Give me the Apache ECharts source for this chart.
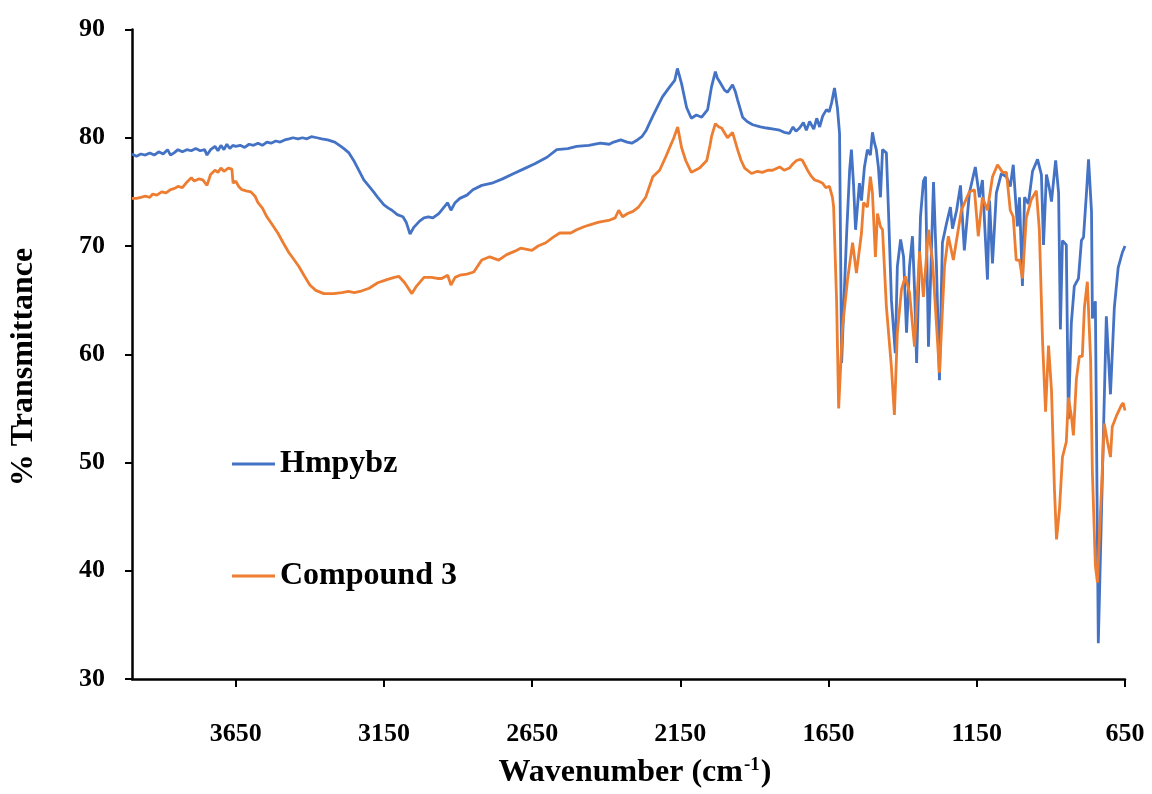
<!DOCTYPE html>
<html>
<head>
<meta charset="utf-8">
<title>FT-IR spectra</title>
<script src="https://cdn.jsdelivr.net/npm/echarts@6/dist/echarts.min.js"></script>
<style>
  html, body { margin: 0; padding: 0; background: #fff; }
  #chart { width: 1152px; height: 794px; }
</style>
</head>
<body>
<div id="chart"></div>
<script>
// FT-IR spectra: % transmittance vs wavenumber (cm-1)
const seriesNames = ['Hmpybz', 'Compound 3'];
const xTickValues = [3650, 3150, 2650, 2150, 1650, 1150, 650];

const hmpybzWave = [
  4000, 3985, 3970, 3955, 3940, 3925, 3910, 3895, 3880, 3870, 3858, 3845, 3830, 3815, 3800,
  3785, 3770, 3755, 3747, 3735, 3720, 3710, 3700, 3690, 3680, 3670, 3660, 3650, 3635, 3620,
  3605, 3590, 3575, 3560, 3545, 3531, 3515, 3500, 3485, 3470, 3457, 3440, 3425, 3410, 3395,
  3376, 3360, 3340, 3316, 3300, 3285, 3268, 3250, 3235, 3218, 3200, 3185, 3171, 3150, 3135,
  3123, 3105, 3086, 3075, 3062, 3050, 3030, 3015, 3000, 2985, 2965, 2950, 2935, 2924, 2910,
  2894, 2870, 2850, 2820, 2786, 2750, 2712, 2680, 2641, 2600, 2567, 2530, 2500, 2459, 2420,
  2390, 2375, 2351, 2330, 2314, 2295, 2280, 2265, 2243, 2225, 2210, 2186, 2169, 2160, 2146,
  2129, 2113, 2096, 2078, 2058, 2045, 2032, 2025, 2018, 2001, 1991, 1974, 1965, 1957, 1940,
  1925, 1906, 1880, 1859, 1835, 1815, 1800, 1782, 1770, 1760, 1748, 1735, 1725, 1714, 1700,
  1690, 1680, 1670, 1657, 1648, 1640, 1630, 1620, 1613, 1606, 1598, 1589, 1579, 1573, 1566,
  1559, 1546, 1539, 1529, 1519, 1509, 1502, 1495, 1489, 1482, 1475, 1468, 1455, 1448, 1438,
  1425, 1418, 1407, 1397, 1387, 1377, 1367, 1360, 1353, 1340, 1330, 1323, 1313, 1296, 1286,
  1276, 1266, 1252, 1239, 1232, 1218, 1205, 1192, 1175, 1155, 1141, 1131, 1114, 1107, 1097,
  1084, 1067, 1050, 1037, 1027, 1013, 1006, 996, 989, 976, 962, 945, 932, 925, 915,
  905, 898, 884, 874, 868, 861, 848, 841, 831, 821, 807, 797, 790, 780, 773,
  763, 760, 750, 740, 723, 713, 699, 686, 673, 659, 650
];
const hmpybzT = [
  78.5, 78.3, 78.5, 78.4, 78.6, 78.4, 78.7, 78.5, 78.9, 78.4, 78.6, 78.9, 78.7, 78.9, 78.8,
  79.0, 78.8, 78.9, 78.4, 78.9, 79.2, 78.8, 79.3, 78.9, 79.4, 79.0, 79.3, 79.2, 79.3, 79.1,
  79.4, 79.3, 79.5, 79.3, 79.6, 79.5, 79.7, 79.6, 79.8, 79.9, 80.0, 79.9, 80.0, 79.9, 80.1,
  80.0, 79.9, 79.8, 79.6, 79.3, 79.0, 78.6, 77.8, 77.0, 76.1, 75.5, 75.0, 74.5, 73.8, 73.5,
  73.3, 72.9, 72.7, 72.2, 71.1, 71.7, 72.3, 72.6, 72.7, 72.6, 73.0, 73.5, 74.0, 73.3, 74.0,
  74.4, 74.7, 75.2, 75.6, 75.8, 76.2, 76.7, 77.1, 77.6, 78.2, 78.9, 79.0, 79.2, 79.3, 79.5,
  79.4, 79.6, 79.8, 79.6, 79.5, 79.8, 80.1, 80.7, 82.0, 83.0, 83.8, 84.7, 85.3, 86.4, 85.0,
  82.8, 81.8, 82.1, 81.9, 82.6, 84.7, 86.1, 85.5, 85.2, 84.4, 84.2, 84.9, 84.3, 83.5, 81.9,
  81.5, 81.2, 81.0, 80.9, 80.8, 80.7, 80.5, 80.4, 81.0, 80.6, 80.9, 81.4, 80.7, 81.5, 80.8,
  81.8, 81.0, 82.0, 82.6, 82.4, 83.2, 84.6, 82.7, 80.4, 59.2, 65.0, 71.2, 77.0, 78.9, 75.8,
  71.5, 75.8, 74.2, 77.3, 78.9, 78.4, 80.5, 79.5, 78.9, 77.3, 74.5, 78.9, 78.6, 73.3, 65.0,
  60.1, 68.1, 70.6, 69.0, 62.0, 68.1, 70.9, 66.0, 59.2, 72.7, 76.0, 76.4, 60.7, 75.9, 68.1,
  57.6, 70.3, 72.1, 73.6, 71.6, 73.3, 75.6, 69.6, 74.9, 77.3, 74.5, 76.1, 66.9, 74.2, 68.4,
  74.9, 76.7, 76.4, 75.5, 77.5, 71.8, 74.5, 66.3, 74.5, 73.9, 76.9, 78.0, 76.6, 70.1, 76.6,
  75.3, 74.1, 77.9, 74.9, 62.3, 70.5, 70.1, 54.0, 62.9, 66.3, 67.0, 70.5, 70.8, 74.9, 78.0,
  73.2, 63.3, 64.9, 33.3, 52.5, 63.5, 56.3, 64.3, 68.0, 69.4, 70.0
];

const compound3Wave = [
  4000, 3985, 3970, 3955, 3940, 3930, 3916, 3900, 3885, 3870, 3858, 3845, 3830, 3815, 3800,
  3790, 3775, 3761, 3747, 3735, 3720, 3710, 3700, 3690, 3675, 3663, 3659, 3650, 3640, 3629,
  3615, 3599, 3585, 3575, 3560, 3545, 3530, 3508, 3490, 3471, 3455, 3437, 3420, 3400, 3380,
  3353, 3320, 3292, 3270, 3250, 3231, 3200, 3171, 3140, 3115, 3100, 3080, 3056, 3040, 3015,
  2990, 2970, 2955, 2935, 2924, 2910, 2894, 2870, 2847, 2830, 2820, 2793, 2763, 2736, 2710,
  2689, 2651, 2630, 2604, 2580, 2557, 2520, 2500, 2473, 2450, 2425, 2388, 2370, 2358, 2345,
  2328, 2310, 2291, 2267, 2243, 2220, 2200, 2186, 2172, 2159, 2146, 2132, 2113, 2100, 2085,
  2061, 2050, 2045, 2032, 2020, 2011, 1991, 1974, 1957, 1945, 1933, 1910, 1890, 1873, 1855,
  1839, 1815, 1800, 1782, 1770, 1758, 1745, 1738, 1721, 1710, 1697, 1685, 1670, 1660, 1647,
  1637, 1633, 1623, 1616, 1603, 1586, 1569, 1556, 1539, 1532, 1519, 1509, 1502, 1492, 1485,
  1475, 1468, 1455, 1438, 1428, 1418, 1404, 1391, 1377, 1360, 1343, 1330, 1313, 1299, 1293,
  1276, 1259, 1246, 1229, 1202, 1175, 1158, 1145, 1131, 1114, 1097, 1080, 1063, 1050, 1037,
  1027, 1017, 1006, 996, 983, 966, 949, 939, 928, 918, 908, 898, 888, 881, 871,
  861, 848, 841, 831, 824, 814, 804, 794, 787, 777, 766, 760, 750, 743, 730,
  720, 709, 699, 693, 679, 662, 656, 650
];
const compound3T = [
  74.4, 74.4, 74.5, 74.6, 74.5, 74.8, 74.7, 75.0, 74.9, 75.2, 75.3, 75.5, 75.4, 75.9, 76.3,
  76.0, 76.2, 76.1, 75.6, 76.6, 77.0, 76.8, 77.2, 76.9, 77.2, 77.1, 75.8, 76.0, 75.5, 75.2,
  75.1, 75.0, 74.6, 74.0, 73.5, 72.7, 72.1, 71.2, 70.3, 69.4, 68.8, 68.1, 67.3, 66.4, 65.9,
  65.6, 65.6, 65.7, 65.8, 65.7, 65.8, 66.1, 66.6, 66.9, 67.1, 67.2, 66.6, 65.6, 66.3, 67.1,
  67.1, 67.0, 67.0, 67.3, 66.4, 67.1, 67.3, 67.4, 67.6, 68.3, 68.7, 69.0, 68.7, 69.2, 69.5,
  69.8, 69.6, 70.0, 70.3, 70.8, 71.2, 71.2, 71.5, 71.8, 72.0, 72.2, 72.4, 72.6, 73.3, 72.7,
  73.0, 73.2, 73.6, 74.5, 76.4, 77.0, 78.2, 79.1, 80.0, 81.0, 79.1, 77.9, 76.8, 77.0, 77.2,
  77.9, 79.3, 80.1, 81.3, 81.0, 80.9, 80.0, 80.5, 78.9, 77.9, 77.2, 76.7, 76.9, 76.8, 77.0,
  77.0, 77.3, 77.0, 77.2, 77.6, 77.9, 78.0, 77.9, 77.0, 76.5, 76.1, 76.0, 75.8, 75.4, 75.5,
  74.5, 73.6, 65.0, 55.0, 62.5, 66.9, 70.3, 67.5, 71.2, 74.0, 73.6, 76.4, 74.9, 69.0, 73.0,
  71.8, 71.5, 64.4, 58.8, 54.4, 62.0, 66.0, 67.2, 65.7, 60.7, 69.5, 65.3, 71.5, 68.5, 68.4,
  58.3, 68.1, 70.9, 68.7, 73.3, 75.0, 75.2, 70.9, 74.5, 73.3, 76.4, 77.5, 76.8, 76.8, 73.3,
  72.7, 68.7, 68.7, 67.0, 72.6, 74.3, 75.1, 71.5, 61.1, 54.7, 60.8, 56.7, 47.5, 42.9, 45.7,
  50.5, 51.9, 56.0, 54.3, 52.5, 57.7, 59.8, 59.8, 64.3, 66.7, 59.5, 49.1, 40.5, 38.9, 47.1,
  53.6, 51.9, 50.5, 53.3, 54.3, 55.3, 55.5, 54.8
];

const zip = (xs, ys) => xs.map((x, i) => [x, ys[i]]);

const serifFamily = '"Liberation Serif", "Times New Roman", serif';
const serifBold = 'bold 32px ' + serifFamily;
const tickFont = { fontFamily: serifFamily, fontWeight: 'bold', fontSize: 26, color: '#000' };

const chart = echarts.init(document.getElementById('chart'), null, { renderer: 'canvas' });

chart.setOption({
  animation: false,
  backgroundColor: '#fff',
  grid: { left: 132, right: 27, top: 29.5, bottom: 115, containLabel: false },
  legend: {
    orient: 'vertical',
    left: 227,
    top: 443,
    icon: 'rect',
    itemWidth: 43,
    itemHeight: 3,
    itemGap: 80,
    data: seriesNames,
    textStyle: { fontFamily: serifFamily, fontWeight: 'bold', fontSize: 32, color: '#000', lineHeight: 32 }
  },
  xAxis: {
    type: 'value',
    inverse: true,
    min: 650,
    max: 4000,
    splitLine: { show: false },
    axisLine: { show: true, onZero: false, lineStyle: { color: '#000', width: 2.5 } },
    axisTick: { show: true, inside: false, length: 8, customValues: xTickValues, lineStyle: { color: '#000', width: 2 } },
    axisLabel: Object.assign({ customValues: xTickValues, margin: 42, formatter: v => String(v) }, tickFont)
  },
  yAxis: {
    type: 'value',
    min: 30,
    max: 90,
    interval: 10,
    splitLine: { show: false },
    axisLine: { show: true, onZero: false, lineStyle: { color: '#000', width: 2.5 } },
    axisTick: { show: true, inside: false, length: 7, lineStyle: { color: '#000', width: 2 } },
    axisLabel: Object.assign({ margin: 27, formatter: v => String(v) }, tickFont)
  },
  series: [
    {
      name: seriesNames[0],
      type: 'line',
      data: zip(hmpybzWave, hmpybzT),
      showSymbol: false,
      symbol: 'none',
      lineStyle: { color: '#4472C4', width: 2.8 },
      itemStyle: { color: '#4472C4' },
      z: 3
    },
    {
      name: seriesNames[1],
      type: 'line',
      data: zip(compound3Wave, compound3T),
      showSymbol: false,
      symbol: 'none',
      lineStyle: { color: '#ED7D31', width: 2.8 },
      itemStyle: { color: '#ED7D31' },
      z: 4
    }
  ],
  graphic: [
    {
      type: 'text',
      x: 24,
      y: 367,
      rotation: Math.PI / 2,
      style: { text: '% Transmittance', font: serifBold, fill: '#000', align: 'center', verticalAlign: 'middle' }
    },
    {
      type: 'text',
      x: 635,
      y: 773,
      style: {
        text: '{t|Wavenumber (cm}{s|-1}{t|)}',
        align: 'center',
        verticalAlign: 'middle',
        rich: {
          t: { font: serifBold, fill: '#000', lineHeight: 34 },
          s: { font: 'bold 19px ' + serifFamily, fill: '#000', verticalAlign: 'top', lineHeight: 34, padding: [0, 1, 14, 1] }
        }
      }
    }
  ]
});
</script>
</body>
</html>
